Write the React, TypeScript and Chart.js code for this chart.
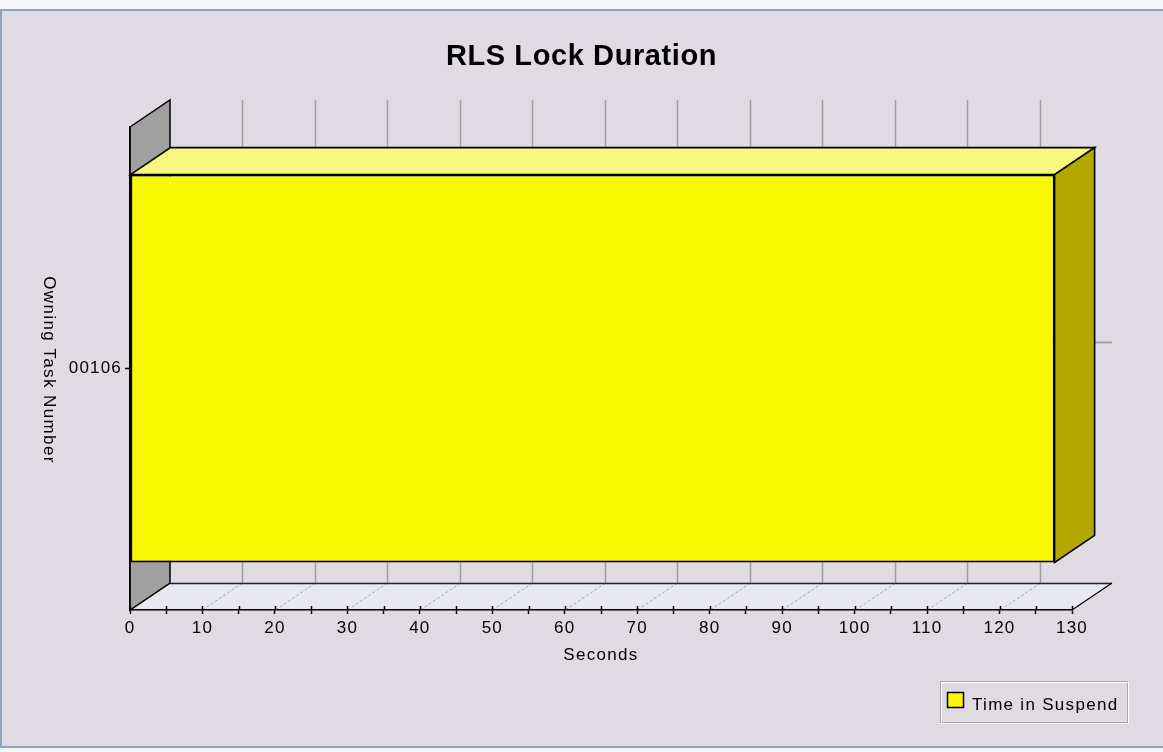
import React, { useEffect, useRef } from 'react';
import { Chart, registerables } from 'chart.js';

Chart.register(...registerables);

// ---- data ----
const categories = ['00106'];
const timeInSuspend = [127.6];
const seriesLabel = 'Time in Suspend';
const xMin = 0;
const xMax = 130;
const minorStep = 5;
const majorStep = 10;
const titleText = 'RLS Lock Duration';
const xTitleText = 'Seconds';
const yTitleText = 'Owning Task Number';

// ---- style ----
const W = 1163;
const H = 752;
const DX = 40;
const DY = 27;
const BG = '#E0DAE2';
const FONT = '"Liberation Sans", Arial, sans-serif';
const FRONT = '#F8F800';
const TOPFACE = '#F8F880';
const SIDEFACE = '#B4A800';
const WALL = '#A0A0A0';
const FLOOR = '#E8E8F0';
const GRID = '#A0A0A4';

function poly(ctx: CanvasRenderingContext2D, pts: number[][], fill: string | null, stroke: string | null, lw = 1) {
  ctx.beginPath();
  pts.forEach((p, i) => (i === 0 ? ctx.moveTo(p[0], p[1]) : ctx.lineTo(p[0], p[1])));
  ctx.closePath();
  if (fill) {
    ctx.fillStyle = fill;
    ctx.fill();
  }
  if (stroke) {
    ctx.strokeStyle = stroke;
    ctx.lineWidth = lw;
    ctx.stroke();
  }
}

function line(ctx: CanvasRenderingContext2D, x1: number, y1: number, x2: number, y2: number, color: string, lw = 1, dash: number[] = []) {
  ctx.beginPath();
  ctx.setLineDash(dash);
  ctx.moveTo(x1, y1);
  ctx.lineTo(x2, y2);
  ctx.strokeStyle = color;
  ctx.lineWidth = lw;
  ctx.stroke();
  ctx.setLineDash([]);
}

const depthPlugin = {
  id: 'depth3d',
  beforeDraw(chart: any) {
    const { ctx, chartArea: a, scales } = chart;
    const xs = scales.x;
    const ys = scales.y;
    ctx.save();
    // page and frame
    ctx.fillStyle = '#F6F6F9';
    ctx.fillRect(0, 0, W, H);
    ctx.fillStyle = BG;
    ctx.fillRect(0, 9, W, 739);
    ctx.fillStyle = '#8DA5BE';
    ctx.fillRect(0, 9, W, 2);
    ctx.fillRect(0, 9, 2, 739);
    ctx.fillRect(0, 746, W, 2);

    const L = a.left, R = a.right, T = a.top, B = a.bottom;
    // floor
    poly(ctx, [[L, B], [R, B], [R + DX, B - DY], [L + DX, B - DY]], FLOOR, null);
    // back gridlines + floor diagonals
    for (let v = xMin + majorStep; v < xMax; v += majorStep) {
      const px = Math.round(xs.getPixelForValue(v)) + 0.5;
      line(ctx, px + DX, T - DY, px + DX, B - DY, GRID, 1.5);
      line(ctx, px, B, px + DX, B - DY, '#A8A8B0', 1, [3, 2]);
    }
    // category gridlines on back wall
    categories.forEach((_, i) => {
      const cy = Math.round(ys.getPixelForValue(i) - DY) + 0.5;
      line(ctx, L + DX, cy, R + DX, cy, GRID, 2);
    });
    // floor edges
    line(ctx, L + DX, B - DY + 0.5, R + DX, B - DY + 0.5, '#202020', 1.5);
    line(ctx, R, B, R + DX, B - DY, '#000', 1.2);
    // left wall
    poly(ctx, [[L, T], [L + DX, T - DY], [L + DX, B - DY], [L, B]], WALL, '#000', 1.5);
    ctx.restore();
    ctx.letterSpacing = '1.2px';
  },
  afterDatasetsDraw(chart: any) {
    const { ctx } = chart;
    ctx.save();
    ctx.letterSpacing = '0px';
    chart.data.datasets.forEach((ds: any, di: number) => {
      const meta = chart.getDatasetMeta(di);
      meta.data.forEach((el: any) => {
        const p = el.getProps(['x', 'y', 'base', 'height'], true);
        const x0 = p.base, x1 = p.x;
        const top = p.y - p.height / 2;
        const bot = p.y + p.height / 2;
        poly(ctx, [[x0, top], [x1, top], [x1 + DX, top - DY], [x0 + DX, top - DY]], TOPFACE, '#000', 1.6);
        poly(ctx, [[x1, top], [x1 + DX, top - DY], [x1 + DX, bot - DY], [x1, bot]], SIDEFACE, '#000', 1.6);
      });
    });
    ctx.restore();
  },
  afterDraw(chart: any) {
    const { ctx, chartArea: a, scales } = chart;
    const xs = scales.x;
    ctx.save();
    // upper half of x tick marks
    xs.ticks.forEach((t: any) => {
      const px = Math.round(xs.getPixelForValue(t.value)) + 0.5;
      line(ctx, px, a.bottom - 4, px, a.bottom, '#000', 1.5);
    });
    // title
    ctx.fillStyle = '#000';
    ctx.letterSpacing = '0.6px';
    ctx.font = `bold 29px ${FONT}`;
    ctx.textAlign = 'center';
    ctx.textBaseline = 'alphabetic';
    ctx.fillText(titleText, W / 2, 65);
    // x axis title
    ctx.letterSpacing = '1.3px';
    ctx.font = `17px ${FONT}`;
    ctx.fillText(xTitleText, (a.left + a.right) / 2, 660);
    // y axis title (reads top to bottom)
    ctx.save();
    ctx.translate(49, 370);
    ctx.rotate(Math.PI / 2);
    ctx.textBaseline = 'middle';
    ctx.letterSpacing = '1.4px';
    ctx.fillText(yTitleText, 0, 0);
    ctx.restore();
    // legend
    const lx = 940, ly = 681, lw = 187, lh = 41;
    ctx.strokeStyle = '#A8A8A8';
    ctx.lineWidth = 1;
    ctx.strokeRect(lx + 0.5, ly + 0.5, lw, lh);
    ctx.strokeStyle = '#FFFFFF';
    ctx.strokeRect(lx + 1.5, ly + 1.5, lw, lh);
    const ds = chart.data.datasets[0];
    ctx.fillStyle = ds.backgroundColor;
    ctx.fillRect(947, 692, 17, 16);
    ctx.strokeStyle = '#000';
    ctx.lineWidth = 1.5;
    ctx.strokeRect(947.5, 692.5, 16, 15);
    ctx.fillStyle = '#000';
    ctx.textAlign = 'left';
    ctx.textBaseline = 'alphabetic';
    ctx.letterSpacing = '1.3px';
    ctx.font = `17px ${FONT}`;
    ctx.fillText(ds.label, 972, 710);
    ctx.restore();
  },
};

export default function App() {
  const ref = useRef<HTMLCanvasElement | null>(null);
  useEffect(() => {
    document.body.style.margin = '0';
    if (!ref.current) return;
    const chart = new Chart(ref.current, {
      type: 'bar',
      data: {
        labels: categories,
        datasets: [
          {
            label: seriesLabel,
            data: timeInSuspend,
            backgroundColor: FRONT,
            borderColor: '#000',
            borderWidth: 1.8,
            borderSkipped: false,
            categoryPercentage: 0.803,
            barPercentage: 1,
          },
        ],
      },
      options: {
        indexAxis: 'y',
        animation: false,
        responsive: true,
        maintainAspectRatio: false,
        layout: { padding: { top: 127, right: 91, bottom: 87, left: 0 } },
        plugins: {
          legend: { display: false },
          title: { display: false },
          tooltip: { enabled: false },
        },
        scales: {
          x: {
            type: 'linear',
            min: xMin,
            max: xMax,
            afterFit: (s: any) => {
              s.height = 55;
            },
            border: { display: true, color: '#000', width: 1.5 },
            grid: { drawOnChartArea: false, drawTicks: true, tickLength: 4, tickColor: '#000', tickWidth: 1.5 },
            ticks: {
              stepSize: minorStep,
              autoSkip: false,
              maxRotation: 0,
              padding: 4,
              color: '#000',
              font: { family: FONT, size: 17 },
              callback: (v: any) => (Number(v) % majorStep === 0 ? String(v) : ''),
            },
          },
          y: {
            type: 'category',
            afterFit: (s: any) => {
              s.width = 130;
            },
            border: { display: true, color: '#000', width: 1.5 },
            grid: { offset: false, drawOnChartArea: false, drawTicks: true, tickLength: 5, tickColor: '#000', tickWidth: 1.5 },
            ticks: {
              padding: 3,
              color: '#000',
              font: { family: FONT, size: 17 },
            },
          },
        },
      },
      plugins: [depthPlugin],
    });
    return () => chart.destroy();
  }, []);
  return (
    <div style={{ position: 'relative', width: W, height: H }}>
      <canvas ref={ref} />
    </div>
  );
}
